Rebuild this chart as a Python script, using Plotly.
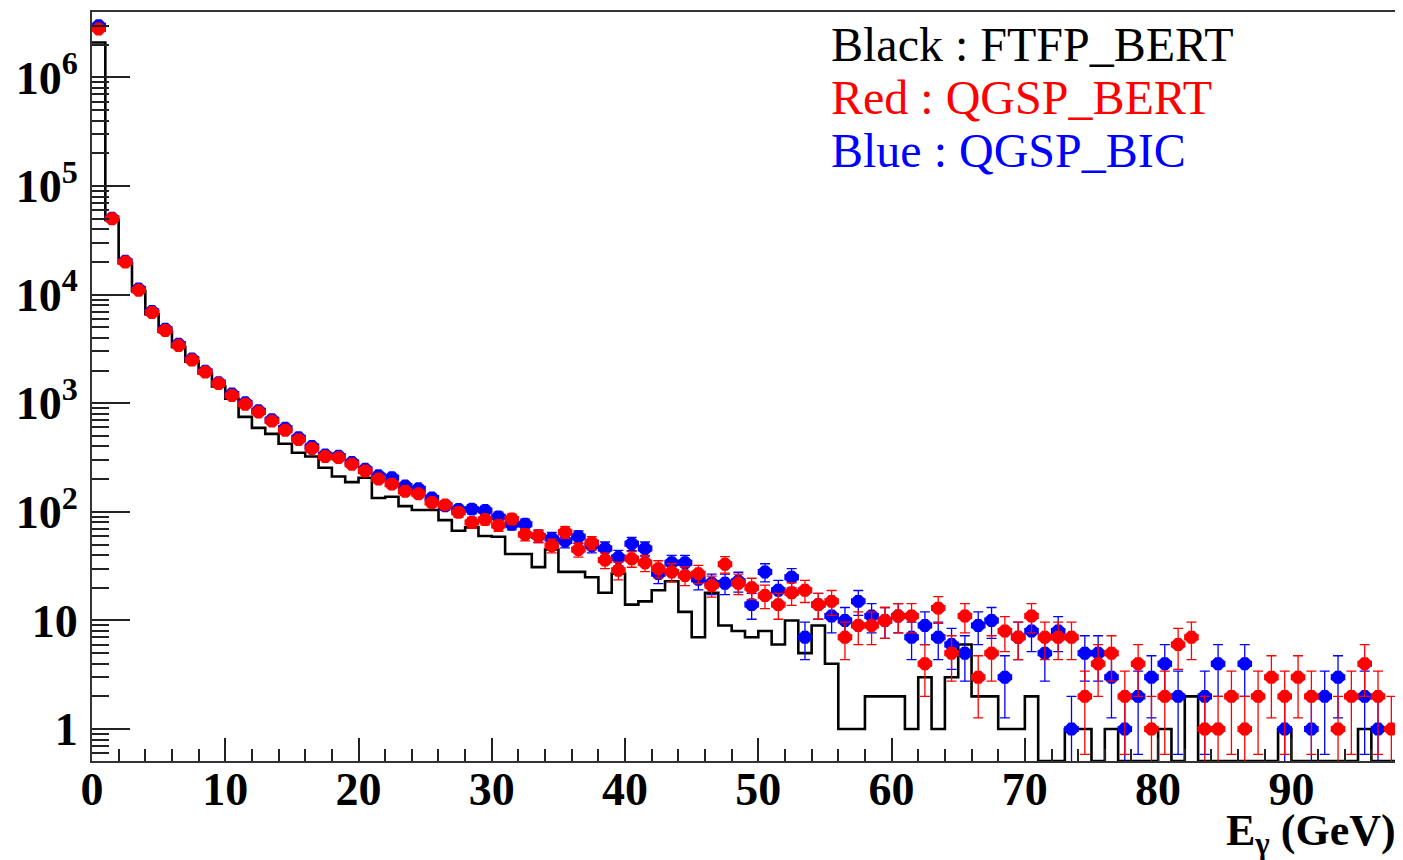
import numpy as np
import plotly.graph_objects as go

# 1 GeV bins from 0 to 98 GeV
bin_edges = np.arange(0, 99)

ftfp_bert = [2100000, 49000, 19500, 10800, 6600, 4550, 3300, 2420, 1880, 1430, 1100,
             749, 593, 523, 424, 350, 324, 255, 212, 188, 206,
             134, 138, 113, 104, 104, 84, 67, 72, 60, 59,
             41, 41, 31, 45, 28, 28, 25, 18, 27, 14,
             15, 19, 23, 12, 7, 18, 9, 8, 7, 8,
             6, 10, 5, 9, 4, 1, 1, 2, 2, 2,
             1, 3, 1, 3, 6, 2, 2, 1, 1, 2,
             0, 0, 1, 1, 0, 1, 0, 0, 0, 1,
             0, 2, 0, 0, 0, 0, 0, 0, 1, 0,
             0, 0, 0, 0, 1, 0, 0]

qgsp_bert = [2800000, 50000, 20000, 11000, 6840, 4680, 3400, 2500, 1940, 1520, 1180,
             980, 830, 685, 565, 463, 383, 323, 316, 274, 238,
             201, 180, 155, 147, 122, 116, 99, 80, 85, 75,
             86, 62, 60, 49, 65, 45, 52, 36, 29, 37,
             34, 30, 28, 26, 27, 21, 33, 22, 20, 17,
             14, 18, 19, 14, 15, 7, 9, 9, 10, 11,
             11, 4, 13, 5, 11, 3, 5, 8, 7, 11,
             7, 7, 7, 2, 4, 5, 2, 4, 1, 2,
             6, 7, 1, 1, 2, 1, 2, 3, 2, 3,
             2, 0, 1, 2, 4, 2, 1]

qgsp_bic = [3000000, 50500, 20300, 11300, 7000, 4800, 3500, 2560, 1970, 1550, 1220,
            1010, 855, 705, 590, 482, 400, 335, 325, 285, 247,
            215, 206, 173, 163, 134, 114, 105, 106, 103, 90,
            77, 77, 60, 57, 54, 59, 49, 46, 38, 51,
            46, 27, 34, 34, 24, 22, 22, 23, 14, 28,
            19, 25, 7, 14, 11, 10, 15, 11, 10, 11,
            7, 9, 7, 6, 5, 9, 10, 3, 7, 8,
            5, 8, 1, 5, 5, 3, 1, 2, 3, 4,
            2, 0, 2, 4, 0, 4, 0, 0, 1, 0,
            1, 2, 3, 0, 2, 1, 0]

y_decades = [1, 10, 100, 1000, 10000, 100000, 1000000]
y_labels = ["1", "10", "10<sup>2</sup>", "10<sup>3</sup>", "10<sup>4</sup>",
            "10<sup>5</sup>", "10<sup>6</sup>"]
x_ticks = [0, 10, 20, 30, 40, 50, 60, 70, 80, 90]

YMIN, YMAX = -0.294, 6.603
font_bold = dict(family="Liberation Serif", size=46, color="black", weight="bold")

fig = go.Figure()

# black step histogram, empty bins drawn on the bottom of the frame like ROOT
blk = np.array(ftfp_bert, dtype=float)
blk = np.where(blk > 0, blk, 10 ** YMIN)
fig.add_trace(go.Scatter(
    x=bin_edges, y=np.append(blk, blk[-1]), mode="lines",
    line=dict(color="black", width=2.6, shape="hv"), hoverinfo="skip"))


def points(vals, color):
    v = np.array(vals, dtype=float)
    keep = v > 0
    xc = (bin_edges[:-1] + 0.5)[keep]
    return go.Scatter(
        x=xc, y=v[keep], mode="markers",
        marker=dict(symbol="octagon", size=14, color=color, line=dict(width=0)),
        error_y=dict(type="data", array=np.sqrt(v[keep]), color=color,
                     thickness=1.3, width=5),
        error_x=dict(type="constant", value=0.5, color=color,
                     thickness=1.3, width=3),
    )


fig.add_trace(points(qgsp_bic, "#0000ff"))
fig.add_trace(points(qgsp_bert, "#ff0000"))

# page body has an 8px margin, so the figure is sized to fit the window
fig.update_layout(
    width=1395, height=852,
    margin=dict(l=84, r=5, t=2, b=99),
    paper_bgcolor="white", plot_bgcolor="white",
    showlegend=False,
)

fig.update_xaxes(
    range=[0, 98], showgrid=False, zeroline=False,
    showline=True, linecolor="#333", linewidth=2, mirror=True,
    tickmode="array", tickvals=x_ticks,
    ticktext=[str(t) for t in x_ticks],
    ticks="inside", ticklen=23, tickwidth=1.5, tickcolor="#222",
    minor=dict(tickmode="linear", tick0=0, dtick=2, ticks="inside",
               ticklen=12, tickwidth=1.5, tickcolor="#222"),
    tickfont=font_bold, ticklabelstandoff=-13,
)

y_minor = [m * 10 ** d for d in range(-1, 7) for m in range(2, 10)
           if 10 ** YMIN < m * 10 ** d < 10 ** YMAX]
fig.update_yaxes(
    type="log", range=[YMIN, YMAX], showgrid=False, zeroline=False,
    showline=True, linecolor="#333", linewidth=2, mirror=True,
    tickmode="array", tickvals=y_decades, ticktext=y_labels,
    ticks="inside", ticklen=38, tickwidth=1.5, tickcolor="#222",
    minor=dict(tickmode="array", tickvals=y_minor, ticks="inside",
               ticklen=17, tickwidth=1.5, tickcolor="#222"),
    tickfont=font_bold, ticklabelstandoff=3,
)

# axis title at the right end, ROOT style
fig.add_annotation(
    text="E<sub>γ</sub> (GeV)", xref="paper", yref="paper",
    x=1.0, y=-0.097, xanchor="right", yanchor="middle",
    showarrow=False,
    font=dict(family="Liberation Serif", size=44, color="black", weight="bold"))

# model labels
for txt, col, yy in [("Black : FTFP_BERT", "black", 0.9565),
                     ("Red : QGSP_BERT", "#ff0000", 0.886),
                     ("Blue : QGSP_BIC", "#0000ff", 0.8155)]:
    fig.add_annotation(
        text=txt, xref="paper", yref="paper", x=0.5645, y=yy,
        xanchor="left", yanchor="middle", showarrow=False,
        font=dict(family="Liberation Serif", size=48, color=col))

fig.write_html("out.html")
